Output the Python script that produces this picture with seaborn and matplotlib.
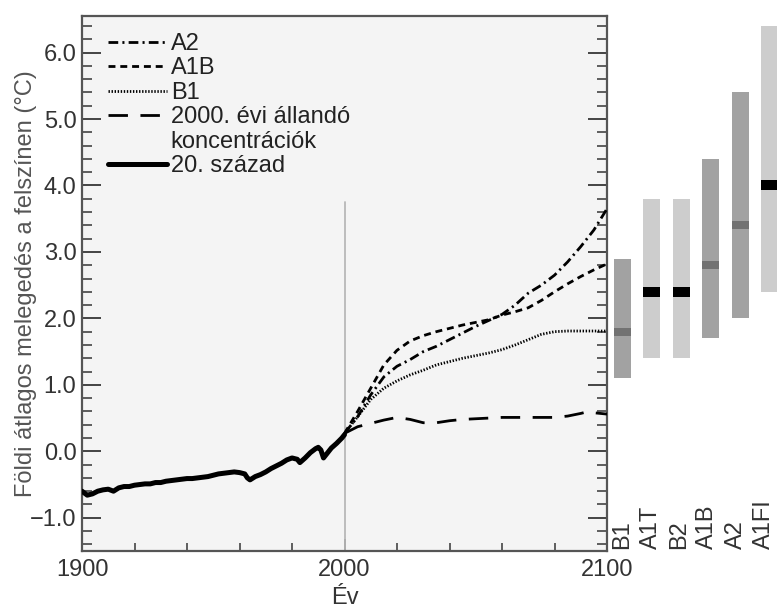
import matplotlib
matplotlib.use("Agg")
import matplotlib.pyplot as plt
from matplotlib.lines import Line2D
import numpy as np
import pandas as pd
import seaborn as sns

# 20th-century multi-model mean (relative to 1980-1999)
hist_years = [1900, 1902, 1904, 1906, 1908, 1910, 1912, 1914, 1916, 1918, 1920,
              1922, 1924, 1926, 1928, 1930, 1932, 1934, 1936, 1938, 1940, 1942,
              1944, 1946, 1948, 1950, 1952, 1954, 1956, 1958, 1960, 1962, 1963,
              1964, 1966, 1968, 1970, 1972, 1974, 1976, 1978, 1980, 1982, 1983,
              1985, 1987, 1989, 1990, 1991, 1992, 1993, 1995, 1997, 1999, 2000]
hist_temp = [-0.60, -0.66, -0.64, -0.60, -0.58, -0.57, -0.60, -0.55, -0.53, -0.53, -0.51,
             -0.50, -0.49, -0.49, -0.47, -0.47, -0.45, -0.44, -0.43, -0.42, -0.41, -0.41,
             -0.40, -0.39, -0.38, -0.36, -0.34, -0.33, -0.32, -0.31, -0.32, -0.34, -0.40,
             -0.43, -0.38, -0.35, -0.31, -0.26, -0.22, -0.18, -0.13, -0.10, -0.12, -0.17,
             -0.10, -0.02, 0.04, 0.06, 0.02, -0.10, -0.05, 0.05, 0.12, 0.20, 0.25]

# Scenario projections 2000-2100
proj_years = [2000, 2005, 2010, 2015, 2020, 2025, 2030, 2035, 2040, 2045, 2050,
              2055, 2060, 2065, 2070, 2075, 2080, 2085, 2090, 2095, 2100]
a2_temp = [0.27, 0.52, 0.85, 1.12, 1.28, 1.38, 1.50, 1.58, 1.68, 1.78, 1.88,
           1.97, 2.06, 2.20, 2.38, 2.50, 2.65, 2.85, 3.08, 3.33, 3.65]
a1b_temp = [0.27, 0.60, 0.95, 1.30, 1.52, 1.66, 1.74, 1.80, 1.85, 1.90, 1.94,
            1.98, 2.05, 2.10, 2.16, 2.27, 2.40, 2.52, 2.63, 2.73, 2.82]
b1_temp = [0.27, 0.52, 0.78, 0.95, 1.06, 1.15, 1.22, 1.30, 1.35, 1.40, 1.44,
           1.48, 1.53, 1.60, 1.68, 1.76, 1.80, 1.81, 1.81, 1.81, 1.81]
commit_years = [2000, 2005, 2010, 2015, 2020, 2025, 2030, 2035, 2040, 2045, 2050,
                2055, 2060, 2065, 2070, 2075, 2080, 2085, 2090, 2093, 2095, 2100]
commit_temp = [0.27, 0.37, 0.42, 0.47, 0.51, 0.48, 0.43, 0.43, 0.46, 0.48, 0.49,
               0.50, 0.51, 0.51, 0.51, 0.51, 0.51, 0.53, 0.57, 0.60, 0.58, 0.56]

# Likely ranges and best estimates for 2090-2099
bar_labels = ["B1", "A1T", "B2", "A1B", "A2", "A1FI"]
bar_best = [1.8, 2.4, 2.4, 2.8, 3.4, 4.0]
bar_low = [1.1, 1.4, 1.4, 1.7, 2.0, 2.4]
bar_high = [2.9, 3.8, 3.8, 4.4, 5.4, 6.4]
bar_dark = [True, False, False, True, True, False]

legend_labels = ["A2", "A1B", "B1", "2000. évi állandó", "koncentrációk", "20. század"]

sns.set_theme(style="ticks")
plt.rcParams["font.family"] = ["Liberation Sans", "DejaVu Sans"]
plt.rcParams["lines.scale_dashes"] = False
plt.rcParams["axes.unicode_minus"] = True

FS = 17
W, H = 777, 611
fig = plt.figure(figsize=(W / 100, H / 100), dpi=100)
fig.patch.set_facecolor("white")

ax = fig.add_axes([82 / W, 1 - 551 / H, (607 - 82) / W, (551 - 16) / H])
ax.set_facecolor("#f4f4f4")
YMIN, YMAX = -1.5, 6.55
ax.set_xlim(1900, 2100)
ax.set_ylim(YMIN, YMAX)

# reference year marker
ax.axvline(2000, ymin=0, ymax=(3.75 - YMIN) / (YMAX - YMIN), color="#b8b8b8", lw=1.3, zorder=1)

styles = {
    "A2": (0, (7, 3, 1.5, 3)),
    "A1B": (0, (5, 3.5)),
    "B1": (0, (1.0, 1.2)),
    "commit": (0, (14, 9)),
}

sns.lineplot(x=proj_years, y=a2_temp, ax=ax, color="black", lw=2.0, linestyle=styles["A2"], zorder=3)
sns.lineplot(x=proj_years, y=a1b_temp, ax=ax, color="black", lw=2.0, linestyle=styles["A1B"], zorder=3)
sns.lineplot(x=proj_years, y=b1_temp, ax=ax, color="black", lw=2.0, linestyle=styles["B1"], zorder=3)
sns.lineplot(x=commit_years, y=commit_temp, ax=ax, color="black", lw=2.0, linestyle=styles["commit"], zorder=3)
sns.lineplot(x=hist_years, y=hist_temp, ax=ax, color="black", lw=3.6, zorder=4)

# ticks
ax.set_xticks([1900, 2000, 2100])
ax.set_xticks(np.arange(1900, 2101, 20), minor=True)
ax.set_yticks(np.arange(-1, 6.01, 1.0))
ax.set_yticks(np.arange(-1.4, 6.5, 0.2), minor=True)
ax.yaxis.set_major_formatter(matplotlib.ticker.FuncFormatter(lambda v, p: f"{v:.1f}".replace("-", "\u2212")))
ax.tick_params(axis="y", which="major", direction="in", length=14, width=1.4, color="#444",
               left=True, right=True, labelsize=FS, labelcolor="#333", pad=4)
ax.tick_params(axis="y", which="minor", direction="in", length=7, width=1.2, color="#444",
               left=True, right=True)
ax.tick_params(axis="x", which="major", direction="in", length=9, width=1.4, color="#444",
               labelsize=FS, labelcolor="#333", pad=6)
ax.tick_params(axis="x", which="minor", direction="in", length=6, width=1.2, color="#444")
for s in ax.spines.values():
    s.set_color("#555")
    s.set_linewidth(1.6)

ax.set_xlabel("Év", fontsize=FS, color="#333", labelpad=4)
ax.set_ylabel("Földi átlagos melegedés a felszínen (°C)", fontsize=FS, color="#555")
ax.yaxis.set_label_coords(-0.086, 0.5)

# legend
handles = [
    Line2D([], [], color="black", lw=2.0, linestyle=styles["A2"]),
    Line2D([], [], color="black", lw=2.0, linestyle=styles["A1B"]),
    Line2D([], [], color="black", lw=2.0, linestyle=styles["B1"]),
    Line2D([], [], color="black", lw=2.0, linestyle=styles["commit"]),
    Line2D([], [], color="none", lw=0),
    Line2D([], [], color="black", lw=3.6),
]
leg = ax.legend(handles, legend_labels, loc="upper left", bbox_to_anchor=(0.05, 0.968),
                frameon=False, fontsize=FS, handlelength=2.5, handletextpad=0.15,
                labelspacing=0.1, borderpad=0, borderaxespad=0)
for t in leg.get_texts():
    t.set_color("#222")

# likely-range bars to the right of the main panel
ax2 = fig.add_axes([608 / W, 1 - 551 / H, (777 - 608) / W, (551 - 16) / H])
ax2.set_ylim(YMIN, YMAX)
ax2.set_xlim(-0.49, 5.25)
ax2.axis("off")
pos = np.arange(len(bar_labels))
label_x = pos - 0.04 * pos
bar_w = 0.58
for i in pos:
    body = "#a2a2a2" if bar_dark[i] else "#cdcdcd"
    mid = "#727272" if bar_dark[i] else "#000000"
    band = 0.12 if bar_dark[i] else 0.15
    ax2.bar(i, bar_high[i] - bar_low[i], bottom=bar_low[i], width=bar_w, color=body, lw=0)
    ax2.bar(i, band, bottom=bar_best[i] - band / 2, width=bar_w, color=mid, lw=0)
    ax2.text(label_x[i], YMIN + 0.03, bar_labels[i], rotation=90, ha="center", va="bottom",
             fontsize=FS, color="#333")

fig.savefig("out.png", dpi=100, facecolor="white")
